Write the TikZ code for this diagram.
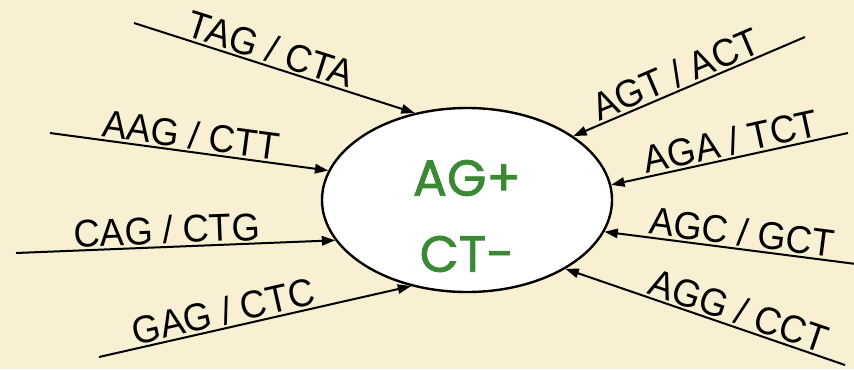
\documentclass[tikz,border=0pt]{standalone}
\usepackage{fontspec}
\setmainfont{Liberation Sans}
\newfontfamily\codonfont[FakeStretch=0.94]{Liberation Sans}
\newfontfamily\markfont[FakeBold=1.6]{Poppins}
\usepackage{tikz}
\usetikzlibrary{arrows.meta,shapes.geometric}
\definecolor{paper}{HTML}{F9EFD2}
\definecolor{mark}{HTML}{3B8A33}

\begin{document}
\begin{tikzpicture}[x=0.75pt, y=-0.75pt, line width=1.5pt,
  codon/.style={sloped, anchor=south, inner sep=1.5pt, font=\codonfont\fontsize{29}{32}\selectfont},
  into/.style={-{Triangle[length=10pt,width=7pt]}},
  outof/.style={{Triangle[length=10pt,width=7pt]}-}]
\fill[paper] (0,0) rectangle (854,369);
\useasboundingbox (0,0) rectangle (854,369);
\node[ellipse, draw, fill=white, line width=1.8pt, minimum width=217.5pt, minimum height=138pt, inner sep=0pt] (ell) at (467,200) {};
\node[font=\markfont\fontsize{38}{57}\selectfont, text=mark, align=center] (site) at (467,216) {AG+\\CT-};
\coordinate (p1) at (134,23);
\coordinate (p2) at (50,133);
\coordinate (p3) at (16,253);
\coordinate (p4) at (99,357);
\coordinate (p5) at (805,37);
\coordinate (p6) at (848,133);
\coordinate (p7) at (856,264);
\coordinate (p8) at (845,365);
\draw[into] (p1) -- (ell.121.8) node[codon, pos=0.47] {TAG / CTA};
\draw[into] (p2) -- (ell.168.4) node[codon, pos=0.5] {AAG / CTT};
\draw[into] (p3) -- (ell.197.5) node[codon, pos=0.475] {CAG / CTG};
\draw[into] (p4) -- (ell.237.7) node[codon, pos=0.41] {GAG / CTC};
\draw[outof] (ell.31.8) -- (p5) node[codon, pos=0.47] {AGT / ACT};
\draw[outof] (ell.6.9) -- (p6) node[codon, pos=0.52] {AGA / TCT};
\draw[outof] (ell.347.1) -- (p7) node[codon, pos=0.54] {AGC / GCT};
\draw[outof] (ell.325.2) -- (p8) node[codon, pos=0.6] {AGG / CCT};
\end{tikzpicture}
\end{document}
